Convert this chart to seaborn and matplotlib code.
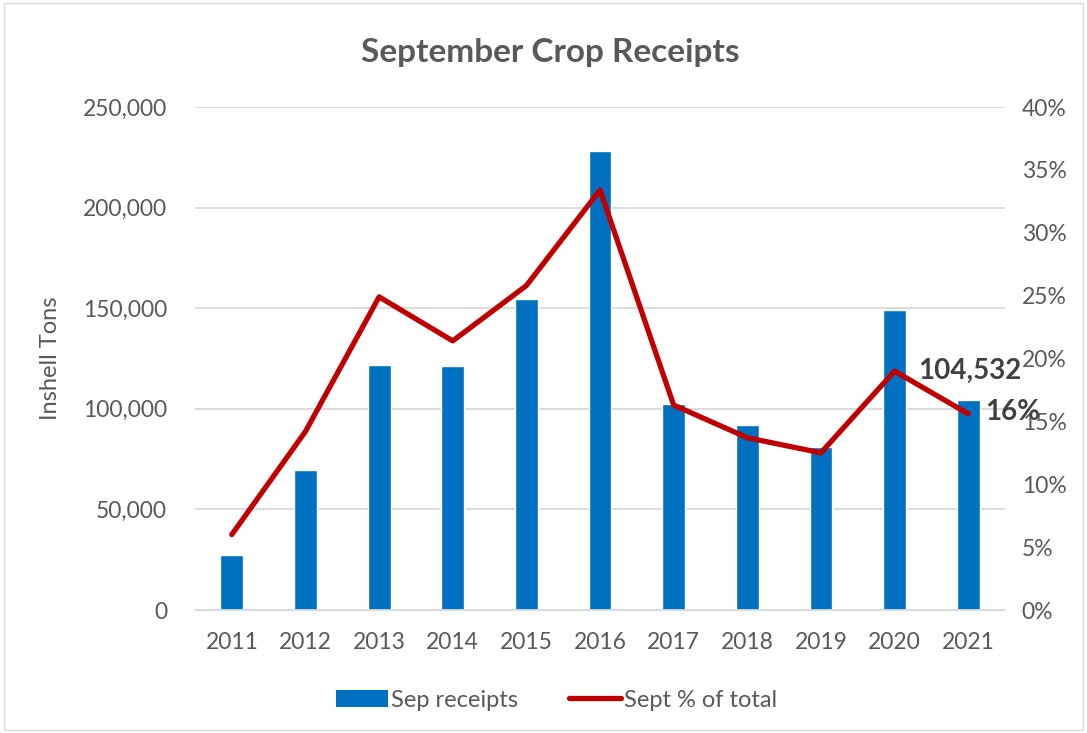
import numpy as np
import pandas as pd
import seaborn as sns
import matplotlib.pyplot as plt
from matplotlib.patches import Patch, Rectangle
from matplotlib.lines import Line2D
from matplotlib.ticker import FuncFormatter, MultipleLocator

# Data
years = ["2011", "2012", "2013", "2014", "2015", "2016", "2017", "2018", "2019", "2020", "2021"]
sep_receipts = [27200, 69500, 121700, 121200, 154800, 228000, 102300, 91900, 80800, 149200, 104532]
sept_pct = [6.0, 14.2, 24.9, 21.4, 25.8, 33.4, 16.3, 13.7, 12.5, 19.0, 15.6]

df = pd.DataFrame({"year": years, "receipts": sep_receipts, "pct": sept_pct})
df["pos"] = range(len(df))

sns.set_theme(style="white")
plt.rcParams["font.family"] = ["Lato", "DejaVu Sans"]
text_grey = "#595959"
bar_blue = "#0070C0"
line_red = "#C00000"

fig = plt.figure(figsize=(10.87, 7.33), dpi=100)
ax = fig.add_axes([0.1794, 0.1678, 0.7452, 0.6862])

sns.barplot(data=df, x="year", y="receipts", color=bar_blue, width=0.31,
            saturation=1, ax=ax)
ax.set_ylim(0, 250000)
ax.set_xlim(-0.5, len(years) - 0.5)
ax.yaxis.set_major_locator(MultipleLocator(50000))
ax.yaxis.set_major_formatter(FuncFormatter(lambda v, p: f"{int(v):,}"))
ax.grid(axis="y", color="#D9D9D9", linewidth=1.3)
ax.set_axisbelow(True)
for s in ["top", "right", "left"]:
    ax.spines[s].set_visible(False)
ax.spines["bottom"].set_color("#D9D9D9")
ax.spines["bottom"].set_linewidth(1.3)
ax.tick_params(axis="both", length=0, labelsize=16.5, colors=text_grey)
ax.tick_params(axis="x", pad=16)
ax.tick_params(axis="y", pad=20)
ax.set_xlabel("")
ax.set_ylabel("Inshell Tons", fontsize=17, color=text_grey, labelpad=16)

ax2 = ax.twinx()
sns.lineplot(data=df, x="pos", y="pct", color=line_red, linewidth=3.8, ax=ax2)
for ln in ax2.lines:
    ln.set_solid_capstyle("round")
    ln.set_solid_joinstyle("round")
ax2.set_ylim(0, 40)
ax2.yaxis.set_major_locator(MultipleLocator(5))
ax2.yaxis.set_major_formatter(FuncFormatter(lambda v, p: f"{int(v)}%"))
ax2.grid(False)
for s in ax2.spines.values():
    s.set_visible(False)
ax2.tick_params(axis="y", length=0, labelsize=16.5, colors=text_grey, pad=12)
ax2.set_ylabel("")
ax2.set_xlabel("")
ax.set_xlim(-0.5, len(years) - 0.5)

# Data labels for the last year
ax.annotate(f"{sep_receipts[-1]:,}", xy=(len(years) - 1, sep_receipts[-1]),
            xytext=(-36, 21), textcoords="offset points", fontsize=20,
            fontweight="bold", color="#404040", va="center")
ax2.annotate(f"{round(sept_pct[-1])}%", xy=(len(years) - 1, sept_pct[-1]),
             xytext=(12, 1.5), textcoords="offset points", fontsize=20,
             fontweight="bold", color="#404040", va="center")

fig.text(0.506, 0.929, "September Crop Receipts", ha="center", va="center",
         fontsize=24, fontweight="bold", color=text_grey)

handles = [Patch(facecolor=bar_blue, edgecolor="none"),
           Line2D([], [], color=line_red, linewidth=3.8, solid_capstyle="round")]
fig.legend(handles, ["Sep receipts", "Sept % of total"], loc="center",
           bbox_to_anchor=(0.512, 0.045), ncol=2, frameon=False, fontsize=17,
           labelcolor=text_grey, handlelength=2.2, columnspacing=2.2,
           handletextpad=0.1)

fig.patches.append(Rectangle((0.004, 0.004), 0.992, 0.992, transform=fig.transFigure,
                             fill=False, edgecolor="#D9D9D9", linewidth=1))

fig.savefig("out.png", dpi=100)
